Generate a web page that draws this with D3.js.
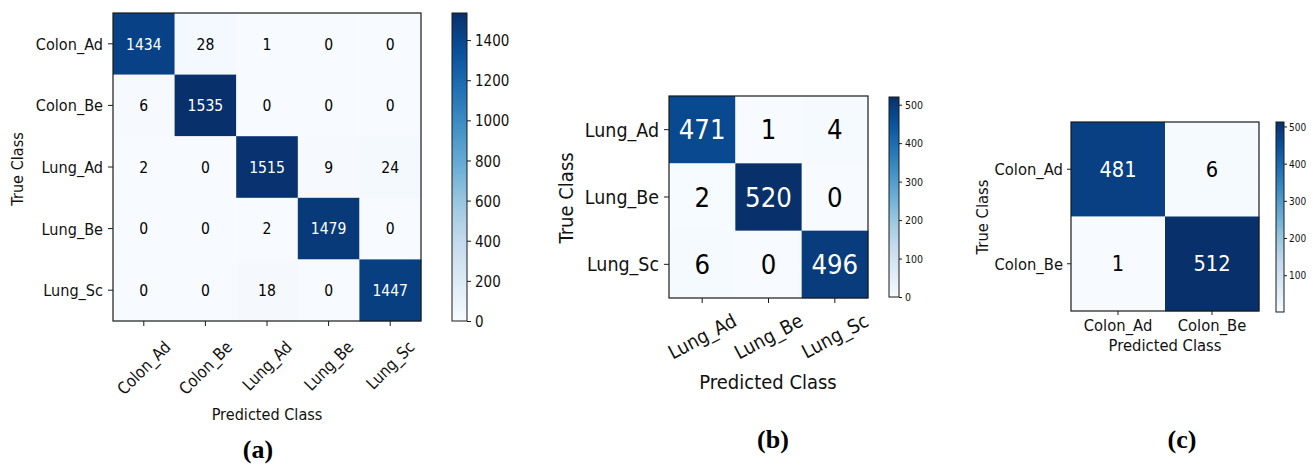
<!DOCTYPE html>
<html><head><meta charset="utf-8">
<script src="https://cdn.jsdelivr.net/npm/d3@7"></script>
<style>
body{margin:0;background:#fff;}
svg{display:block;font-family:"DejaVu Sans",sans-serif;}
</style></head><body>
<svg id="chart" width="1312" height="465"></svg>
<script>
// (a) five-class colon + lung classifier
const classesA = ["Colon_Ad", "Colon_Be", "Lung_Ad", "Lung_Be", "Lung_Sc"];
const countsA = [
  [1434, 28, 1, 0, 0],
  [6, 1535, 0, 0, 0],
  [2, 0, 1515, 9, 24],
  [0, 0, 2, 1479, 0],
  [0, 0, 18, 0, 1447]
];
const colorTicksA = [0, 200, 400, 600, 800, 1000, 1200, 1400];

// (b) lung-only classifier
const classesB = ["Lung_Ad", "Lung_Be", "Lung_Sc"];
const countsB = [
  [471, 1, 4],
  [2, 520, 0],
  [6, 0, 496]
];
const colorTicksB = [0, 100, 200, 300, 400, 500];

// (c) colon-only classifier
const classesC = ["Colon_Ad", "Colon_Be"];
const countsC = [
  [481, 6],
  [1, 512]
];
const colorTicksC = [100, 200, 300, 400, 500];

const panelLabels = ["(a)", "(b)", "(c)"];
const xTitle = "Predicted Class";
const yTitle = "True Class";

// matplotlib "Blues" colormap (piecewise linear through the ColorBrewer stops)
const bluesStops = ["#f7fbff", "#deebf7", "#c6dbef", "#9ecae1", "#6baed6",
                    "#4292c6", "#2171b5", "#08519c", "#08306b"];
const blues = d3.piecewise(d3.interpolateRgb, bluesStops);

const svg = d3.select("#chart");
const defs = svg.append("defs");

function drawMatrix(cfg, idx) {
  const { classes, counts, box, cbar } = cfg;
  const flat = counts.flat();
  const vmin = d3.min(flat), vmax = d3.max(flat);
  const x = d3.scaleBand().domain(classes).range([box.x0, box.x1]);
  const y = d3.scaleBand().domain(classes).range([box.y0, box.y1]);
  const color = d3.scaleSequential(blues).domain([vmin, vmax]);
  const g = svg.append("g");

  const cells = counts.flatMap((row, i) => row.map((v, j) => ({ t: classes[i], p: classes[j], v })));
  g.selectAll("rect.cell").data(cells).join("rect")
    .attr("class", "cell")
    .attr("x", d => x(d.p)).attr("y", d => y(d.t))
    .attr("width", x.bandwidth() + 0.3).attr("height", y.bandwidth() + 0.3)
    .attr("fill", d => color(d.v));

  g.selectAll("text.val").data(cells).join("text")
    .attr("class", "val")
    .attr("transform", d => `translate(${x(d.p) + x.bandwidth() / 2},${y(d.t) + y.bandwidth() / 2}) scale(1,${cfg.stretch})`)
    .attr("text-anchor", "middle").attr("dy", "0.36em")
    .attr("font-size", cfg.valueSize)
    .attr("fill", d => d.v > vmax / 2 ? "#ffffff" : "#000000")
    .text(d => d.v);

  g.append("rect")
    .attr("x", box.x0).attr("y", box.y0)
    .attr("width", box.x1 - box.x0).attr("height", box.y1 - box.y0)
    .attr("fill", "none").attr("stroke", "#1a1a1a").attr("stroke-width", 1.2);

  // row labels
  const ya = g.append("g")
    .attr("transform", `translate(${box.x0},0)`)
    .call(d3.axisLeft(y).tickSize(cfg.tickLen).tickPadding(cfg.tickPad));
  ya.attr("font-family", null).attr("font-size", null);
  ya.select(".domain").remove();
  ya.selectAll(".tick line").attr("stroke", "#1a1a1a");
  ya.selectAll(".tick text").attr("font-size", cfg.tickSize).attr("fill", "#111")
    .attr("transform", `scale(1,${cfg.stretch})`)
    .attr("dy", "0.36em")
    .attr("y", 0);

  // column labels
  const xa = g.append("g")
    .attr("transform", `translate(0,${box.y1})`)
    .call(d3.axisBottom(x).tickSize(cfg.tickLen).tickPadding(cfg.tickPad));
  xa.attr("font-family", null).attr("font-size", null);
  xa.select(".domain").remove();
  xa.selectAll(".tick line").attr("stroke", "#1a1a1a");
  const xt = xa.selectAll(".tick text").attr("font-size", cfg.tickSize).attr("fill", "#111");
  if (cfg.xRotate) {
    const a = cfg.xRotate * Math.PI / 180;
    xt.each(function () {
      const w = this.getComputedTextLength();
      const h = cfg.tickSize * 1.15;
      const H = w * Math.sin(a) + h * Math.cos(a);
      d3.select(this)
        .attr("y", null).attr("dy", "0.36em").attr("text-anchor", "middle")
        .attr("transform", `translate(0,${cfg.xLabelTop + H / 2}) rotate(${-cfg.xRotate}) scale(1,${cfg.stretch})`);
    });
  } else {
    xt.attr("y", null).attr("dy", null)
      .attr("transform", `translate(0,${cfg.xLabelBase}) scale(1,${cfg.stretch})`);
  }

  // axis titles
  g.append("text")
    .attr("transform", `translate(${cfg.xTitlePos[0]},${cfg.xTitlePos[1]}) scale(1,${cfg.stretch})`)
    .attr("text-anchor", "middle").attr("font-size", cfg.titleSize).attr("fill", "#111")
    .text(xTitle);
  g.append("text")
    .attr("transform", `translate(${cfg.yTitlePos[0]},${cfg.yTitlePos[1]}) rotate(-90) scale(1,${cfg.stretch})`)
    .attr("text-anchor", "middle").attr("dy", "0.36em").attr("font-size", cfg.titleSize).attr("fill", "#111")
    .text(yTitle);

  // colour bar
  const gradId = "blues-grad-" + idx;
  const grad = defs.append("linearGradient").attr("id", gradId)
    .attr("x1", 0).attr("y1", 1).attr("x2", 0).attr("y2", 0);
  d3.range(0, 1.0001, 0.05).forEach(t => {
    grad.append("stop").attr("offset", t).attr("stop-color", blues(t));
  });
  g.append("rect")
    .attr("x", cbar.x).attr("y", cbar.y0)
    .attr("width", cbar.w).attr("height", cbar.y1 - cbar.y0)
    .attr("fill", `url(#${gradId})`)
    .attr("stroke", "#1a1a1a").attr("stroke-width", 1);
  const cs = d3.scaleLinear().domain([vmin, vmax]).range([cbar.y1, cbar.y0]);
  const ca = g.append("g")
    .attr("transform", `translate(${cbar.x + cbar.w},0)`)
    .call(d3.axisRight(cs).tickValues(cfg.colorTicks).tickFormat(d3.format("d"))
      .tickSize(cbar.tickLen).tickPadding(cbar.tickPad));
  ca.attr("font-family", null).attr("font-size", null);
  ca.select(".domain").remove();
  ca.selectAll(".tick line").attr("stroke", "#1a1a1a");
  ca.selectAll(".tick text").attr("font-size", cbar.fontSize).attr("fill", "#111")
    .attr("y", 0).attr("dy", "0.36em")
    .attr("transform", `scale(1,${cfg.stretch})`);

  // panel caption
  svg.append("text")
    .attr("x", cfg.caption[0]).attr("y", cfg.caption[1])
    .attr("text-anchor", "middle")
    .attr("font-family", "'Liberation Serif','Times New Roman',serif")
    .attr("font-weight", "bold").attr("font-size", 26).attr("fill", "#000")
    .text(panelLabels[idx]);
}

const panels = [
  {
    classes: classesA, counts: countsA, colorTicks: colorTicksA,
    box: { x0: 113, x1: 421, y0: 13, y1: 321 },
    cbar: { x: 452, w: 15, y0: 13, y1: 321, tickLen: 4, tickPad: 4, fontSize: 13.5 },
    valueSize: 14, tickSize: 14.5, titleSize: 14.5, tickLen: 5, tickPad: 5,
    xRotate: 45, xLabelTop: 17, stretch: 1.15,
    xTitlePos: [267, 420], yTitlePos: [17, 169], caption: [258, 458]
  },
  {
    classes: classesB, counts: countsB, colorTicks: colorTicksB,
    box: { x0: 669, x1: 868, y0: 96, y1: 298 },
    cbar: { x: 889, w: 10, y0: 97, y1: 297, tickLen: 3, tickPad: 3, fontSize: 9.5 },
    valueSize: 24.5, tickSize: 17.5, titleSize: 18, tickLen: 5, tickPad: 5,
    xRotate: 28, xLabelTop: 12, stretch: 1.1,
    xTitlePos: [768, 389], yTitlePos: [566, 198], caption: [773, 448]
  },
  {
    classes: classesC, counts: countsC, colorTicks: colorTicksC,
    box: { x0: 1071, x1: 1259, y0: 122, y1: 311 },
    cbar: { x: 1276, w: 8, y0: 122, y1: 312, tickLen: 3, tickPad: 2, fontSize: 9 },
    valueSize: 19.5, tickSize: 14.8, titleSize: 14.8, tickLen: 4, tickPad: 4,
    xRotate: 0, xLabelBase: 20, stretch: 1.1,
    xTitlePos: [1165, 351], yTitlePos: [982, 217], caption: [1182, 448]
  }
];

panels.forEach((p, i) => drawMatrix(p, i));
</script>
</body></html>
